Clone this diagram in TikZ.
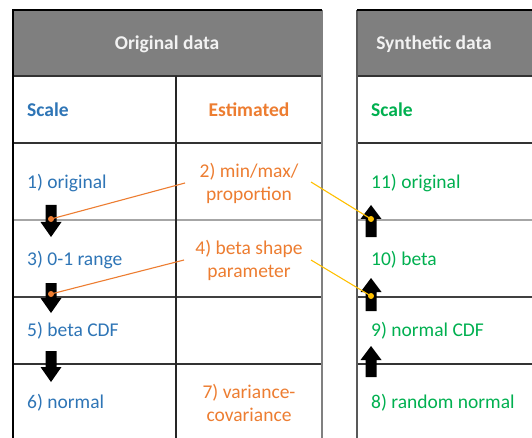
\documentclass[tikz,border=0pt]{standalone}
\usepackage{fontspec}
\setmainfont{Carlito}
\definecolor{hdrgray}{HTML}{7F7F7F}
\definecolor{hdrtext}{HTML}{F2F2F2}
\definecolor{sblue}{HTML}{2E75B6}
\definecolor{sorange}{HTML}{ED7D31}
\definecolor{sgreen}{HTML}{00B050}
\definecolor{syellow}{HTML}{FFC000}
\tikzset{
  hdr/.style={font=\fontsize{19.5}{22}\selectfont\bfseries, text=hdrtext, inner sep=0pt},
  colhdr/.style={font=\fontsize{19.5}{22}\selectfont\bfseries, inner sep=0pt},
  lbl/.style={font=\fontsize{19.5}{23}\selectfont, inner sep=0pt, anchor=west},
  est/.style={font=\fontsize{19.5}{23}\selectfont, text=sorange, inner sep=0pt, align=center},
  dot/.style={circle, inner sep=0pt, minimum size=6pt},
  blockarrow/.style={fill=black},
  orangeline/.style={draw=sorange, line width=1.1pt},
  yellowline/.style={draw=syellow, line width=1.1pt},
}
\newcommand{\downarr}[3]{% x, ytop, ybottom
  \fill[blockarrow] ({#1-5.5},#2) -- ({#1+5.5},#2) -- ({#1+5.5},{#3-15}) -- ({#1+10.5},{#3-15}) -- (#1,#3) -- ({#1-10.5},{#3-15}) -- ({#1-5.5},{#3-15}) -- cycle;}
\newcommand{\uparr}[3]{% x, ytop, ybottom
  \fill[blockarrow] ({#1-5.5},#3) -- ({#1+5.5},#3) -- ({#1+5.5},{#2+14}) -- ({#1+10.5},{#2+14}) -- (#1,#2) -- ({#1-10.5},{#2+14}) -- ({#1-5.5},{#2+14}) -- cycle;}
\begin{document}
\begin{tikzpicture}[x=1pt,y=-1pt]
\useasboundingbox (0,0) rectangle (532,438);
\fill[white] (0,0) rectangle (532,438);
% left table
\fill[hdrgray] (13,10) rectangle (322,76);
\fill[hdrgray] (357,10) rectangle (532,76);
% row lines left
\draw[black!80, line width=1.2pt] (13,76) -- (322,76);
\draw[black!80, line width=1.2pt] (13,143) -- (322,143);
\draw[black!35, line width=1.2pt] (13,220) -- (322,220);
\draw[black!75, line width=1.2pt] (13,297) -- (322,297);
\draw[black!80, line width=1.2pt] (13,364) -- (322,364);
\draw[black!85, line width=1.2pt] (176,76) -- (176,438);
\draw[black!50, line width=1.2pt] (322,10) -- (322,438);
\draw[black, line width=2pt] (13,438) -- (13,10) -- (322,10);
% right table
\draw[black!80, line width=1.2pt] (357,76) -- (532,76);
\draw[black!80, line width=1.2pt] (357,143) -- (532,143);
\draw[black!35, line width=1.2pt] (357,220) -- (532,220);
\draw[black!75, line width=1.2pt] (357,297) -- (532,297);
\draw[black!80, line width=1.2pt] (357,364) -- (532,364);
\draw[black!65, line width=1.2pt] (357,438) -- (357,10);
\draw[black, line width=2pt] (357,10) -- (532,10);
% headers
\node[hdr] (orig) at (167,44) {Original data};
\node[hdr] (synth) at (434,44) {Synthetic data};
\node[colhdr, text=sblue, anchor=west] (scaleL) at (27,110) {Scale};
\node[colhdr, text=sorange] (estim) at (249,110) {Estimated};
\node[colhdr, text=sgreen, anchor=west] (scaleR) at (371,110) {Scale};
% left labels
\node[lbl, text=sblue] (s1) at (27,183) {1) original};
\node[lbl, text=sblue] (s3) at (27,260) {3) 0-1 range};
\node[lbl, text=sblue] (s5) at (27,331) {5) beta CDF};
\node[lbl, text=sblue] (s6) at (27,403) {6) normal};
\node[est] (e2) at (249,183) {2) min/max/\\proportion};
\node[est] (e4) at (249,260) {4) beta shape\\parameter};
\node[est] (e7) at (249,403) {7) variance-\\covariance};
% right labels
\node[lbl, text=sgreen] (r11) at (371,183) {11) original};
\node[lbl, text=sgreen] (r10) at (371,260) {10) beta};
\node[lbl, text=sgreen] (r9) at (371,331) {9) normal CDF};
\node[lbl, text=sgreen] (r8) at (371,403) {8) random normal};
% arrows
\downarr{51}{205}{237}
\downarr{51}{283}{313}
\downarr{51}{351}{382}
\uparr{371}{205}{237}
\uparr{371}{278}{311}
\uparr{371}{346}{377}
% dots and connectors
\node[dot, fill=sorange] (d1) at (51,219) {};
\node[dot, fill=sorange] (d2) at (51,294) {};
\node[dot, fill=syellow] (d3) at (371,219) {};
\node[dot, fill=syellow] (d4) at (371,296) {};
\coordinate (c1) at (185,183);
\coordinate (c2) at (184,260);
\coordinate (c3) at (311,182);
\coordinate (c4) at (311,260);
\draw[orangeline] (d1.center) -- (c1);
\draw[orangeline] (d2.center) -- (c2);
\draw[yellowline] (c3) -- (d3.center);
\draw[yellowline] (c4) -- (d4.center);
\end{tikzpicture}
\end{document}
